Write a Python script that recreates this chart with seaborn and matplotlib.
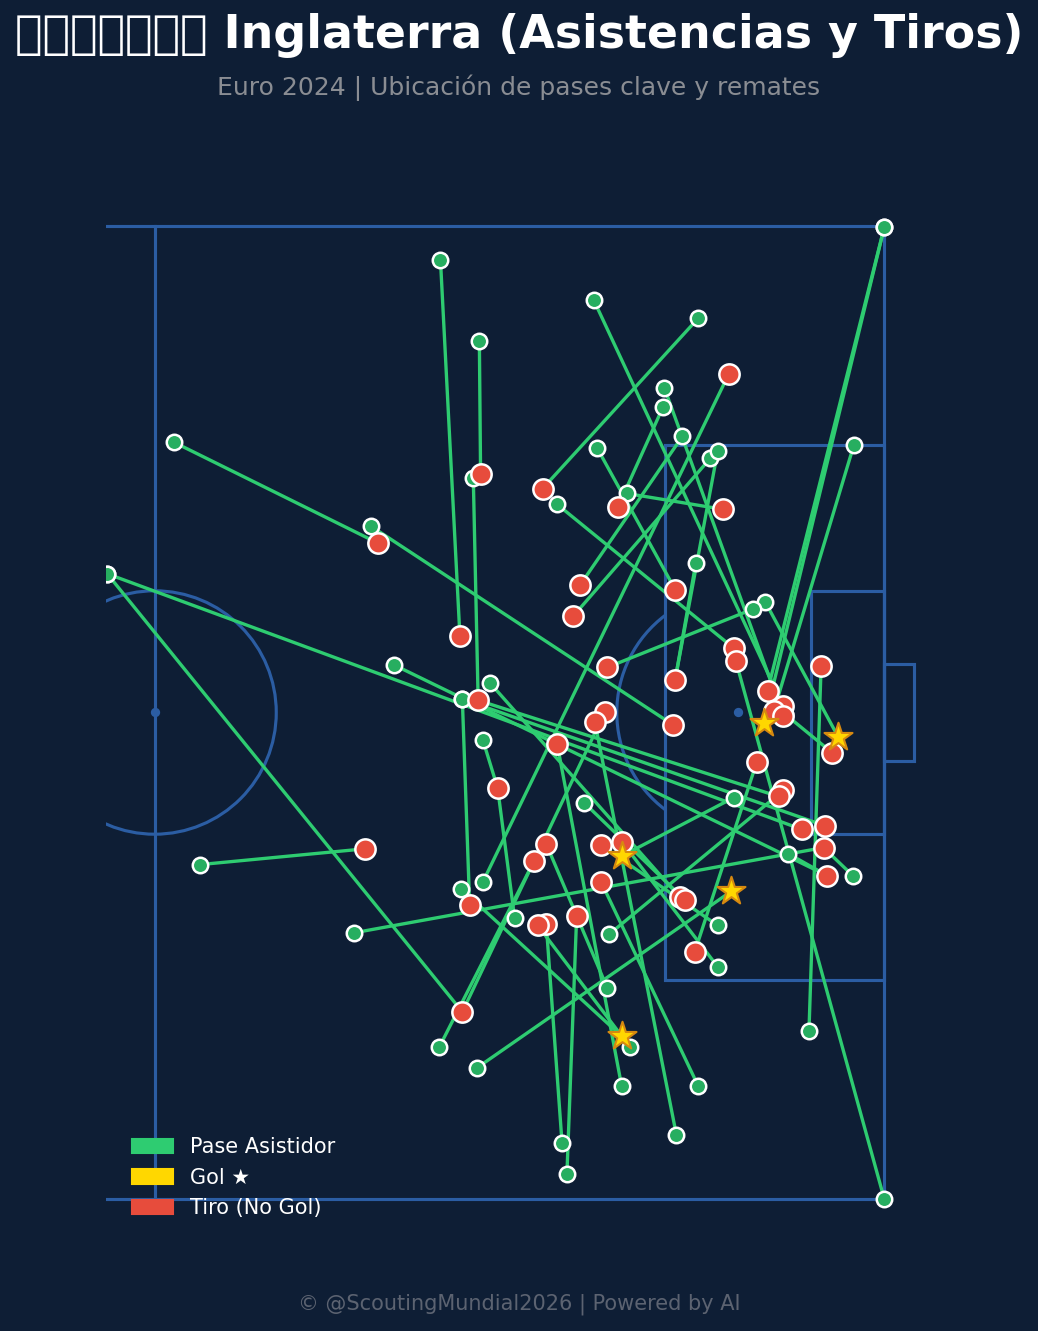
import numpy as np
import matplotlib
matplotlib.use('Agg')
import matplotlib.pyplot as plt
from matplotlib.patches import Patch, Rectangle, Circle, Arc
import seaborn as sns

bg = '#0e1e35'
line_col = '#2b5da3'
green_line = '#2ecc71'
green_dot = '#27ae60'
red = '#e74c3c'
gold = '#ffd700'

# passes: start -> end (pitch coords, 120x80, y down)
pass_x = [83.5, 86.7, 86.2, 61.6, 77.8, 56.1, 56.1, 79.7, 120.0, 120.0,
          117.5, 120.0, 113.8, 104.7, 96.1, 101.9, 103.4, 101.8, 98.8, 96.4,
          87.0, 105.7, 106.3, 104.5, 93.1, 110.2, 109.2, 87.6, 87.0, 89.6,
          76.4, 63.7, 107.6, 106.3, 106.3, 102.9, 98.4, 104.7, 99.1, 97.2,
          93.5, 93.9, 83.4, 85.3, 86.5, 97.4, 85.3, 85.3, 85.2, 95.3,
          112.1, 117.4, 111.8, 104.4, 86.6]
pass_y = [2.8, 9.5, 20.7, 17.8, 24.7, 28.6, 28.6, 36.1, 0.1, 0.1,
          18.0, 80.0, 66.2, 7.6, 6.1, 13.3, 17.3, 14.9, 22.0, 18.3,
          53.9, 19.1, 18.5, 27.7, 22.9, 30.9, 31.5, 37.6, 42.3, 56.9,
          58.1, 52.5, 47.0, 57.5, 60.9, 74.7, 70.7, 70.7, 67.5, 62.6,
          75.4, 77.9, 67.5, 64.6, 69.2, 58.2, 38.9, 38.9, 54.5, 47.4,
          51.6, 53.4, 40.1, 59.7, 39.0]
end_x = [85.1, 86.8, 86.6, 78.4, 102.6, 85.3, 113.2, 115.3, 110.4, 110.1,
         110.9, 107.8, 114.8, 91.9, 111.7, 111.7, 95.0, 98.1, 106.7, 102.8,
         107.2, 94.4, 102.8, 102.8, 107.6, 116.2, 97.2, 103.2, 88.2, 88.2,
         115.0, 77.3, 98.4, 96.7, 98.4, 96.2, 93.1, 96.7, 91.5, 92.2,
         92.2, 94.7, 91.2, 97.0, 107.4, 111.7, 85.9, 115.1, 98.4, 103.6,
         115.3, 115.0, 115.7, 109.5, 111.3]
end_y = [33.7, 20.4, 39.0, 26.1, 41.0, 64.6, 49.6, 53.4, 38.2, 40.9,
         39.9, 35.8, 36.2, 21.6, 39.5, 40.3, 29.5, 23.1, 23.3, 29.9,
         12.2, 32.1, 37.3, 37.3, 34.7, 42.0, 36.3, 55.2, 46.2, 46.2,
         51.1, 51.2, 51.8, 50.9, 50.6, 40.8, 42.6, 53.9, 57.5, 50.8,
         57.4, 56.7, 52.2, 40.0, 54.7, 46.4, 55.8, 49.3, 66.6, 55.4,
         53.4, 51.1, 43.3, 44.1, 46.9]

# shots without goal
shot_x = [86.8, 91.9, 98.1, 106.7, 107.2, 78.4, 95.0, 94.4, 102.8, 85.1,
          97.2, 102.8, 107.6, 107.8, 114.8, 86.6, 110.4, 111.7, 110.9, 111.7,
          97.0, 96.2, 102.6, 93.1, 115.7, 109.5, 88.2, 111.7, 111.3, 113.2,
          115.1, 115.0, 115.3, 92.2, 91.2, 96.7, 98.4, 96.7, 77.3, 85.9,
          92.2, 91.5, 94.7, 103.2, 103.6, 104.4, 85.3]
shot_y = [20.4, 21.6, 23.1, 23.3, 12.2, 26.1, 29.5, 32.1, 29.9, 33.7,
          36.3, 37.3, 34.7, 35.8, 36.2, 39.0, 38.2, 39.5, 39.9, 40.3,
          40.0, 40.8, 41.0, 42.6, 43.3, 44.1, 46.2, 46.4, 46.9, 49.6,
          49.3, 51.1, 53.4, 50.8, 52.2, 50.9, 50.6, 53.9, 51.2, 55.8,
          57.4, 57.5, 56.7, 55.2, 55.4, 59.7, 64.6]

# goals
goal_x = [110.1, 116.2, 98.4, 107.4, 98.4]
goal_y = [40.9, 42.0, 51.8, 54.7, 66.6]

W, H = 1038, 1331
fig = plt.figure(figsize=(W / 150, H / 150), dpi=150, facecolor=bg)
ax = fig.add_axes([106 / W, 83 / H, 827 / W, 1071 / H])
ax.set_facecolor(bg)

# pitch
lw = 1.5
kw = dict(color=line_col, lw=lw, zorder=1)
ax.plot([0, 120], [0, 0], **kw)
ax.plot([0, 120], [80, 80], **kw)
ax.plot([120, 120], [0, 80], **kw)
ax.plot([60, 60], [0, 80], **kw)
ax.add_patch(Circle((60, 40), 10, fill=False, ec=line_col, lw=lw, zorder=1))
ax.add_patch(Rectangle((102, 18), 18, 44, fill=False, ec=line_col, lw=lw, zorder=1))
ax.add_patch(Rectangle((114, 30), 6, 20, fill=False, ec=line_col, lw=lw, zorder=1))
ax.add_patch(Rectangle((120, 36), 2.4, 8, fill=False, ec=line_col, lw=lw, zorder=1))
ax.add_patch(Arc((108, 40), 20, 20, theta1=126.87, theta2=233.13, ec=line_col, lw=lw, zorder=1))
ax.scatter([60, 108], [40, 40], s=12, color=line_col, zorder=1)

for sx, sy, ex, ey in zip(pass_x, pass_y, end_x, end_y):
    ax.plot([sx, ex], [sy, ey], color=green_line, lw=1.6, zorder=2, solid_capstyle='round')

sns.scatterplot(x=pass_x, y=pass_y, ax=ax, color=green_dot, s=55,
                edgecolor='white', linewidth=1.2, zorder=3, legend=False)
sns.scatterplot(x=shot_x, y=shot_y, ax=ax, color=red, s=95,
                edgecolor='white', linewidth=1.2, zorder=4, legend=False)
sns.scatterplot(x=goal_x, y=goal_y, ax=ax, color=gold, s=200, marker='*',
                edgecolor='#d68910', linewidth=1.0, zorder=5, legend=False)

ax.set_xlim(56, 124)
ax.set_ylim(84, -4)
ax.axis('off')

handles = [Patch(color=green_line, label='Pase Asistidor'),
           Patch(color=gold, label='Gol ★'),
           Patch(color=red, label='Tiro (No Gol)')]
ax.legend(handles=handles, loc='lower left', bbox_to_anchor=(0.021, 0.02),
          borderaxespad=0, frameon=False, fontsize=10, labelcolor='white',
          labelspacing=0.5)

flag = '\U0001F3F4\U000E0067\U000E0062\U000E0065\U000E006E\U000E0067\U000E007F'
fig.text(0.5, 1 - 36 / H, f'{flag} Inglaterra (Asistencias y Tiros)', ha='center', va='center',
         fontsize=22, fontweight='bold', color='white')
fig.text(0.5, 1 - 88 / H, 'Euro 2024 | Ubicación de pases clave y remates', ha='center', va='center',
         fontsize=12, color='#8a8d93')
fig.text(0.5, 1 - 1304 / H, '© @ScoutingMundial2026 | Powered by AI', ha='center', va='center',
         fontsize=10, color='#5c6371')

fig.savefig('out.png', dpi=150, facecolor=bg)
